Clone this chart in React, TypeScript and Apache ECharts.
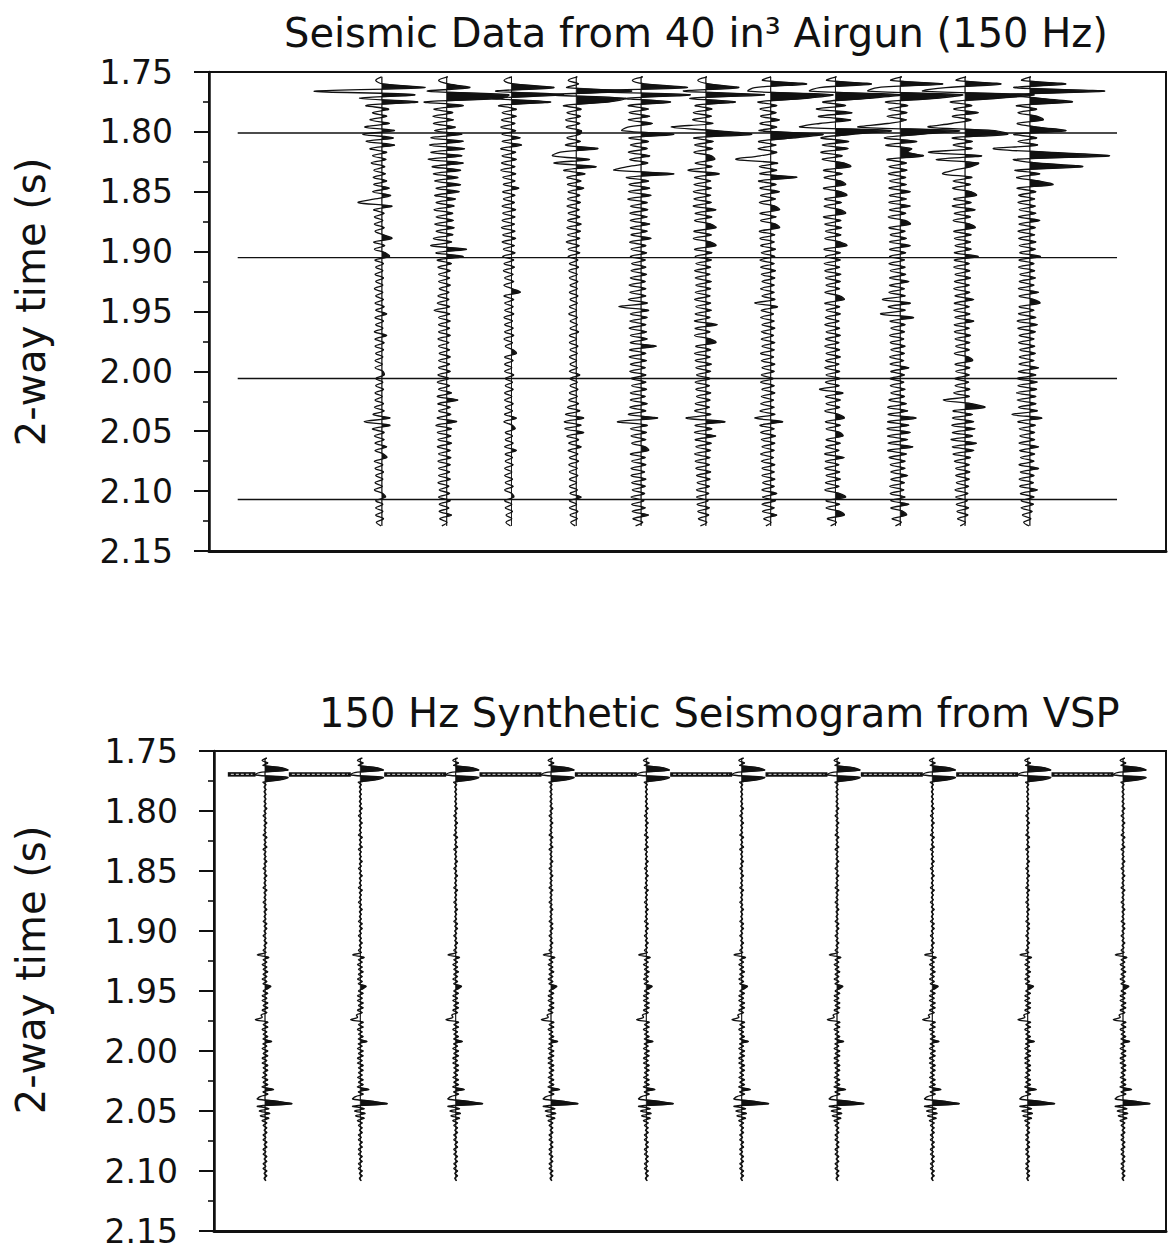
import React, { useEffect, useRef } from "react";
import * as echarts from "echarts";

// ---- text ----
const titleAirgun = "Seismic Data from 40 in³ Airgun (150 Hz)";
const titleSynthetic = "150 Hz Synthetic Seismogram from VSP";
const timeAxisName = "2-way time (s)";

// ---- time axis (two-way time, seconds) ----
const timeTicks = [1.75, 1.8, 1.85, 1.9, 1.95, 2.0, 2.05, 2.1, 2.15];

// ---- airgun record: 11 traces, one amplitude every 3 ms from 1.754 s ----
// amplitudes are in hundredths of the trace spacing; positive lobes are shaded
const AIRGUN_T0 = 1.754;
const AIRGUN_DT = 0.003;

const airgun01 = [
  4, -5, 6, 70, -100, 55, -30, 60, -20, 15,
  -10, 12, -14, 16, -22, 24, -25, 22, -20, 24,
  -14, 12, -10, 11, -12, 9, -8, 10, -9, 12,
  -8, 16, -10, 18, -6, -32, 20, -8, 8, -7,
  6, -7, 8, -6, 7, 20, -8, 9, -7, 10,
  16, -6, 7, -5, 6, -6, 7, -5, 6, -7,
  6, -5, 7, -6, 8, -5, 12, -6, 7, -5,
  6, -7, 12, -6, 8, -6, 7, -5, 6, -6,
  5, -6, 6, 8, -5, 6, -5, 7, -6, 5,
  -6, 7, -7, 8, -9, 17, -23, 17, -10, 8,
  -7, 8, -6, 12, -6, 7, 12, -7, 6, -6,
  7, -5, 6, -6, 5, -7, 6, 10, -5, 6,
  -5, 6, -5, 7, -4, 3,
];
const airgun02 = [
  6, -8, 7, 40, -25, 100, 90, -30, 30, -15,
  14, -17, 15, -16, 18, -14, 28, -20, 30, -22,
  32, -20, 28, -24, 30, -18, 26, -16, 22, -14,
  26, -12, 24, -14, 18, -12, 16, -15, 14, -12,
  15, -14, 16, -12, 14, -16, 12, -20, 35, -12,
  30, -10, 12, -9, 10, -8, 9, -8, 10, -7,
  8, -9, 8, -10, 9, -15, 9, -8, 10, -8,
  9, -8, 10, -9, 8, -8, 9, -7, 10, -8,
  9, -8, 10, -9, 8, -10, 9, -8, 12, -10,
  22, -9, 10, -8, 11, -10, 20, -12, 12, -10,
  11, -9, 12, -10, 10, -8, 11, -9, 10, -8,
  9, -8, 10, -9, 8, -7, 9, -8, 10, -7,
  8, -7, 12, -6, 5, -3,
];
const airgun03 = [
  5, -7, 8, 70, -20, 85, -25, 65, -15, 12,
  -10, 12, -11, 10, -12, 11, -10, 18, -10, 20,
  -12, 11, -10, 12, -11, 10, -12, 11, -9, 10,
  -8, 16, -9, 10, -8, 9, -10, 11, -9, 10,
  -10, 9, -11, 10, -9, 11, -10, 9, -8, 10,
  -9, 8, -7, 9, -8, 7, -6, 8, -7, 6,
  18, -7, 8, -6, 7, -6, 8, -7, 6, -6,
  7, -6, 8, -7, 6, -5, 7, 12, -6, 7,
  -6, 5, -6, 8, -5, 6, -5, 7, -6, 5,
  -6, 7, -5, 6, -6, 12, -7, 6, 10, -5,
  6, -5, 7, -6, 12, -5, 6, -5, 7, -6,
  5, -6, 6, -5, 7, -6, 5, 8, -6, 5,
  -5, 6, -4, 5, -4, 3,
];
const airgun04 = [
  6, -8, 8, -10, 90, -35, 80, 55, -15, 12,
  -10, 11, -12, 10, -11, 12, 10, -10, 11, -12,
  38, -20, -32, 25, -30, 35, -15, 18, -10, 12,
  -9, 16, -8, 10, -9, 11, -10, 9, -8, 10,
  -9, 12, -10, 11, -9, 10, -11, 9, -8, 10,
  -8, 7, -6, 8, -7, 6, -6, 7, -5, 6,
  -6, 7, -5, 6, -6, 5, -7, 6, -5, 6,
  -5, 8, -6, 5, -6, 7, -5, 6, -6, 5,
  -5, 6, -6, 10, -5, 6, -5, 7, -6, 6,
  -7, 8, -9, 10, -12, 16, -14, 12, -13, 16,
  -10, 8, -7, 12, -8, 7, -6, 8, -7, 6,
  -6, 7, -6, 5, -6, 6, -5, 12, -6, 5,
  -6, 7, -5, 6, -4, 3,
];
const airgun05 = [
  7, -9, 10, 75, -85, 80, -20, 50, -15, 16,
  -14, 18, -15, 22, -16, -25, 55, -14, 16, -12,
  14, -15, 18, -13, 15, -16, -37, 55, -18, 16,
  -14, 18, -15, 20, -16, 14, -12, 15, -13, 14,
  -12, 18, -12, 14, -11, 20, -13, 12, -11, 13,
  -12, 11, -10, 12, -11, 13, -12, 11, -14, 12,
  -13, 12, -15, 14, -30, 16, -12, 14, -13, 12,
  -14, 13, -12, 14, -12, 28, -13, 12, -14, 13,
  -12, 11, -13, 12, -11, 12, -10, 13, -12, 11,
  -12, 14, -13, 12, -15, 30, -32, 14, -12, 13,
  -11, 12, -10, 11, 16, -12, 11, -10, 12, -11,
  10, -11, 12, -10, 11, -9, 10, -11, 9, -10,
  11, -9, 16, -8, 7, -4,
];
const airgun06 = [
  6, -8, 9, 55, -30, 95, -20, 50, -12, 14,
  -15, 13, -16, 15, -49, 20, 75, -14, 16, -13,
  15, -14, 13, 18, -12, 14, -23, 25, -13, 12,
  -14, 13, -15, 12, -14, 13, -15, 20, -12, 14,
  -13, 12, 20, -14, 13, -15, 12, 20, -13, 14,
  -12, 13, -11, 12, -13, 11, -12, 13, -11, 12,
  -12, 11, -13, 12, -11, 13, -12, 11, -13, 22,
  -12, 11, -13, 12, 20, -11, 12, -13, 11, -12,
  13, -11, 12, -10, 11, -12, 10, -11, 12, -10,
  11, -12, 10, -13, 12, -26, 34, -12, 14, -13,
  20, -12, 13, -11, 12, -13, 11, -12, 10, -11,
  12, -10, 11, -9, 10, -10, 9, -10, 8, -9,
  10, -8, 9, -7, 6, -4,
];
const airgun07 = [
  5, -8, 60, -20, -30, 100, 60, -15, 14, -12,
  13, -11, 18, -12, 14, -13, 85, 40, -14, 13,
  -15, 14, -12, -49, 15, -13, 14, -12, 45, -14,
  13, -12, 18, -11, 12, -13, 11, 18, -12, 13,
  -11, 12, 18, -13, 11, -12, 10, -11, 12, -10,
  11, -12, 10, -11, 12, -10, 11, -9, 10, -11,
  10, -9, 11, -20, 15, -10, 9, -11, 10, -9,
  11, -10, 9, -10, 11, -9, 10, -11, 9, -10,
  11, -9, 10, -10, 9, -11, 10, -9, 11, -10,
  9, -11, 10, -12, 11, -20, 23, -12, 10, -11,
  12, -10, 11, -9, 10, -11, 9, -10, 11, -9,
  10, -9, 11, -8, 10, -9, 14, -8, 12, -9,
  10, -8, 14, -6, 5, -3,
];
const airgun08 = [
  6, -9, 60, -20, -35, 105, 55, -15, 20, -25,
  30, -22, 28, -20, -50, 90, 30, -18, 25, -16,
  24, -18, 15, -16, 18, 28, -14, 15, -13, 12,
  20, -14, 13, 22, -12, 14, -13, 12, 20, -14,
  13, -12, 14, -11, 13, -12, 12, 22, -13, 12,
  -11, 12, -13, 11, -12, 13, -11, 12, -10, 11,
  -12, 11, 18, -12, 11, -10, 12, -11, 10, -12,
  11, -10, 12, -11, 10, -12, 11, -10, 12, -11,
  10, -12, 11, -10, 12, -11, 10, -20, 16, -11,
  12, -10, 11, -12, 10, 18, -11, 12, -10, 11,
  16, -10, 12, -11, 10, -12, 18, -11, 10, -12,
  11, -10, 12, -11, 10, -12, 11, 20, -10, 11,
  -10, 12, 18, -8, 6, -3,
];
const airgun09 = [
  7, -10, 70, -30, -45, 100, 60, -18, 16, -14,
  15, -16, 14, -15, -60, 95, 35, -20, 30, -18,
  22, 15, 40, -16, 14, -13, 15, -14, 13, -12,
  14, -13, 20, -12, 14, -13, 20, -12, 13, -14,
  12, 20, -13, 12, -11, 14, -12, 20, -12, 13,
  -12, 11, -13, 12, -11, 13, -12, 18, -12, 11,
  -13, 12, -23, 20, -14, 12, -26, 25, -11, 12,
  -10, 11, -12, 10, -11, 12, -10, 11, -12, 10,
  -11, 18, -10, 11, -12, 10, -11, 12, -10, 11,
  -13, 14, -15, 16, -14, 29, -15, 18, -16, 20,
  -15, 16, -14, 24, -15, 14, -13, 12, -11, 12,
  -10, 16, -10, 11, -12, 10, -11, 12, -10, 18,
  -10, 9, 14, -8, 6, -3,
];
const airgun10 = [
  6, -9, 60, -25, -60, 110, 55, -18, 15, -13,
  25, -15, 14, -16, -52, 50, 70, -15, 16, -14,
  15, -52, 30, -40, 25, 14, -13, -30, 15, -14,
  13, -15, 14, 22, -13, 14, -15, 20, -12, 13,
  -14, 12, 20, -13, 14, -12, 13, -11, 14, -12,
  25, -12, 11, -13, 12, -11, 13, -12, 11, -13,
  12, -11, 18, -12, 11, -13, 12, -11, 18, -12,
  11, -12, 13, -11, 12, -10, 11, -12, 10, 16,
  -11, 12, -10, 11, -12, 10, -11, 12, -13, 11,
  -29, 14, 35, -14, 16, -15, 18, -16, 20, -15,
  16, -17, 22, -15, 18, -14, 13, -12, 11, -10,
  12, -10, 11, -9, 10, -11, 9, -10, 8, -9,
  10, -8, 9, -7, 5, -3,
];
const airgun11 = [
  6, -8, 60, -20, 120, -30, 20, 70, -16, 15,
  -14, 16, 25, -15, 16, 60, -20, 15, -14, 16,
  -52, 30, 127, -20, 15, 86, -18, 20, -16, 18,
  40, -15, 14, -13, 12, -14, 13, -12, 14, -13,
  20, -12, 13, -14, 12, -13, 14, -12, 13, -11,
  21, -12, 11, -13, 12, -11, 13, -12, 11, -13,
  18, -12, 11, 20, -12, 11, -13, 14, -15, 16,
  -14, 13, -12, 11, -13, 12, -11, 13, -12, 11,
  -12, 18, -13, 14, -15, 16, -14, 15, -16, 14,
  -15, 14, -13, 16, -23, 23, -14, 13, -12, 12,
  -11, 12, -12, 18, -11, 12, -10, 11, -12, 18,
  -10, 11, -12, 10, -11, 16, -10, 11, -9, 10,
  -9, 8, -7, 6, -5, 3,
];
const airgunTraces = [
  airgun01, airgun02, airgun03, airgun04, airgun05, airgun06,
  airgun07, airgun08, airgun09, airgun10, airgun11,
];

// timing lines drawn across the airgun record (s) and their extent in trace units
const timingLineTimes = [1.801, 1.905, 2.006, 2.107];
const timingLineExtent = [-1.18, 12.39];

// ---- synthetic seismogram: one trace, one amplitude every 2 ms from 1.756 s ----
const SYN_T0 = 1.756;
const SYN_DT = 0.002;
const synthetic = [
  2, -3, 3, -2, 18, 24, -6, -10, 24, 16,
  -2, 1, -1, 1, -1, 1, -1, 1, -1, 1,
  -1, 2, -1, 1, -2, 1, -1, 2, -1, 1,
  -1, 1, -2, 2, -1, 1, -1, 2, -2, 1,
  -1, 1, -1, 2, -1, 1, -2, 1, -1, 2,
  -1, 1, -1, 1, -2, 2, -1, 1, -1, 1,
  -2, 1, -1, 2, -1, 1, -1, 1, -2, 2,
  -1, 2, -1, 1, -2, 1, -1, 2, -1, 1,
  -2, 1, -8, 4, -2, 2, -3, 2, -2, 3,
  -2, 2, -3, 2, -2, 6, 3, -2, 3, -3,
  2, -3, 3, -2, 3, -3, 2, -4, -3, -10,
  3, -2, 3, -3, 2, -2, 3, -2, 7, -2,
  2, -3, 3, -2, 3, -3, 2, -3, 3, -2,
  3, -2, 2, -3, 3, -2, 3, -3, 9, -2,
  3, -5, -8, 14, 28, -8, 4, -6, 5, -5,
  4, -3, 2, -2, 2, -1, 2, -2, 1, -2,
  2, -1, 2, -2, 1, -2, 2, -1, 2, -2,
  1, -2, 2, -1, 2, -1, 1,
];
const SYN_TRACE_COUNT = 10;
// marker band along the strong reflector at the top of the synthetic panel
const syntheticBandTime = 1.7695;
const syntheticBandStart = 0.61;

const GAIN = 0.01;
const INK = "#111111";
const FONT = "'DejaVu Sans', sans-serif";

type Api = { coord: (v: number[]) => number[] };

// Variable-area wiggle: the trace is stroked in full, and the part of each
// positive lobe beyond the shading bias is filled.
function wiggle(
  samples: number[],
  t0: number,
  dt: number,
  traceX: number,
  api: Api,
  lineWidth: number,
  bias: number
) {
  const line: number[][] = [];
  const base = traceX + bias;
  const fill: number[][] = [api.coord([base, t0])];
  let prevD = 0;
  samples.forEach((v, i) => {
    const a = v * GAIN;
    const d = a - bias;
    const t = t0 + i * dt;
    if (i > 0 && (prevD > 0) !== (d > 0) && prevD !== d) {
      const f = prevD / (prevD - d);
      fill.push(api.coord([base, t - dt + f * dt]));
    }
    line.push(api.coord([traceX + a, t]));
    fill.push(api.coord([base + Math.max(d, 0), t]));
    prevD = d;
  });
  fill.push(api.coord([base, t0 + (samples.length - 1) * dt]));
  return {
    type: "group",
    children: [
      { type: "polygon", silent: true, shape: { points: fill }, style: { fill: INK, stroke: INK, lineWidth: 0.8 } },
      { type: "polyline", silent: true, shape: { points: line, smooth: 0.35 }, style: { fill: null, stroke: INK, lineWidth } },
    ],
  };
}

function yAxis(gridIndex: number) {
  return {
    type: "value",
    gridIndex,
    inverse: true,
    min: timeTicks[0],
    max: timeTicks[timeTicks.length - 1],
    interval: timeTicks[1] - timeTicks[0],
    axisLine: { show: true, onZero: false, lineStyle: { color: INK, width: 2.5 } },
    axisTick: { show: true, length: 15, lineStyle: { color: INK, width: 2 } },
    minorTick: { show: true, splitNumber: 2, length: 6, lineStyle: { color: INK, width: 1.6 } },
    axisLabel: {
      margin: 36,
      fontFamily: FONT,
      fontSize: 33,
      color: INK,
      showMinLabel: true,
      showMaxLabel: true,
      formatter: (v: number) => v.toFixed(2),
    },
    splitLine: { show: false },
    minorSplitLine: { show: false },
  };
}

function xAxis(gridIndex: number, min: number, max: number) {
  return {
    type: "value",
    gridIndex,
    min,
    max,
    axisLine: { show: true, onZero: false, lineStyle: { color: INK, width: 3 } },
    axisTick: { show: false },
    axisLabel: { show: false },
    splitLine: { show: false },
  };
}

export default function App() {
  const ref = useRef<HTMLDivElement>(null);

  useEffect(() => {
    if (!ref.current) return;
    const chart = echarts.init(ref.current, undefined, { renderer: "svg" });

    const bandSegments: number[][] = [[syntheticBandStart, 0.9]];
    for (let k = 1; k < SYN_TRACE_COUNT; k++) bandSegments.push([k + 0.25, k + 0.9]);

    const option = {
      animation: false,
      backgroundColor: "#ffffff",
      title: [
        {
          text: titleAirgun,
          left: 279,
          top: 8,
          textStyle: { fontFamily: FONT, fontSize: 40, fontWeight: "normal", color: INK },
        },
        {
          text: titleSynthetic,
          left: 314,
          top: 688,
          textStyle: { fontFamily: FONT, fontSize: 40, fontWeight: "normal", color: INK },
        },
      ],
      grid: [
        { left: 209, top: 72, width: 957, height: 479, show: true, borderColor: INK, borderWidth: 2, outerBoundsMode: "none" },
        { left: 214, top: 751, width: 952, height: 480, show: true, borderColor: INK, borderWidth: 2, outerBoundsMode: "none" },
      ],
      xAxis: [xAxis(0, -1.623, 13.146), xAxis(1, 0.465, 10.451)],
      yAxis: [yAxis(0), yAxis(1)],
      graphic: [
        {
          type: "text",
          x: 31,
          y: 302,
          rotation: Math.PI / 2,
          style: { text: timeAxisName, font: `40px ${FONT}`, fill: INK, align: "center", verticalAlign: "middle" },
        },
        {
          type: "text",
          x: 31,
          y: 970,
          rotation: Math.PI / 2,
          style: { text: timeAxisName, font: `40px ${FONT}`, fill: INK, align: "center", verticalAlign: "middle" },
        },
      ],
      series: [
        ...timingLineTimes.map((t) => ({
          type: "line",
          xAxisIndex: 0,
          yAxisIndex: 0,
          symbol: "none",
          silent: true,
          lineStyle: { color: INK, width: 1.4 },
          data: [
            [timingLineExtent[0], t],
            [timingLineExtent[1], t],
          ],
        })),
        {
          type: "custom",
          xAxisIndex: 0,
          yAxisIndex: 0,
          clip: true,
          silent: true,
          encode: { x: 0, y: 1 },
          data: airgunTraces.map((_, i) => [i + 1, 1.9]),
          renderItem: (params: any, api: any) =>
            wiggle(airgunTraces[params.dataIndex], AIRGUN_T0, AIRGUN_DT, params.dataIndex + 1, api, 1.3, 0.045),
        },
        {
          type: "custom",
          xAxisIndex: 1,
          yAxisIndex: 1,
          clip: true,
          silent: true,
          encode: { x: 0, y: 1 },
          data: bandSegments.map((s) => [s[0], syntheticBandTime, s[1]]),
          renderItem: (params: any, api: any) => {
            const seg = bandSegments[params.dataIndex];
            const p0 = api.coord([seg[0], syntheticBandTime]);
            const p1 = api.coord([seg[1], syntheticBandTime]);
            return {
              type: "group",
              children: [
                { type: "line", silent: true, shape: { x1: p0[0], y1: p0[1], x2: p1[0], y2: p1[1] }, style: { stroke: INK, lineWidth: 4.5 } },
                {
                  type: "line",
                  silent: true,
                  shape: { x1: p0[0] + 3, y1: p0[1], x2: p1[0] - 3, y2: p1[1] },
                  style: { stroke: "#b8b8b8", lineWidth: 1.2, lineDash: [3, 2] },
                },
              ],
            };
          },
        },
        {
          type: "custom",
          xAxisIndex: 1,
          yAxisIndex: 1,
          clip: true,
          silent: true,
          encode: { x: 0, y: 1 },
          data: Array.from({ length: SYN_TRACE_COUNT }, (_, i) => [i + 1, 1.9]),
          renderItem: (params: any, api: any) => wiggle(synthetic, SYN_T0, SYN_DT, params.dataIndex + 1, api, 1.3, 0),
        },
      ],
    };

    chart.setOption(option as any);
    return () => chart.dispose();
  }, []);

  return (
    <div
      ref={ref}
      style={{ position: "absolute", left: 0, top: 0, width: 1169, height: 1250, background: "#fff" }}
    />
  );
}
